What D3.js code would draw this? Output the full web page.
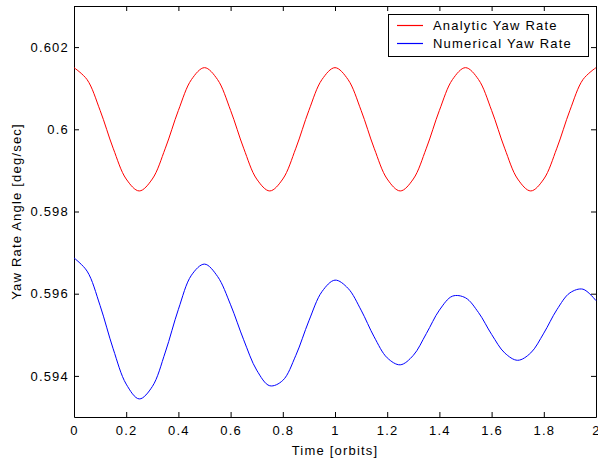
<!DOCTYPE html>
<html>
<head>
<meta charset="utf-8">
<script src="https://cdn.jsdelivr.net/npm/d3@7"></script>
<style>
body { margin: 0; background: #fff; }
text { font-family: "Liberation Sans", Arial, sans-serif; }
</style>
</head>
<body>
<div id="chart"></div>
<script>
var w = 598,
	h = 464;

// time in orbits, sampled every 0.05
var times = d3.range(0, 41).map(function(i) { return i * 0.05; });

var analytic = [
	0.6015, 0.60121, 0.60046, 0.59954, 0.59879, 0.5985, 0.59879, 0.59954, 0.60046, 0.60121,
	0.6015, 0.60121, 0.60046, 0.59954, 0.59879, 0.5985, 0.59879, 0.59954, 0.60046, 0.60121,
	0.6015, 0.60121, 0.60046, 0.59954, 0.59879, 0.5985, 0.59879, 0.59954, 0.60046, 0.60121,
	0.6015, 0.60121, 0.60046, 0.59954, 0.59879, 0.5985, 0.59879, 0.59954, 0.60046, 0.60121,
	0.6015
];

var numerical = [
	0.59687, 0.59655, 0.59571, 0.59466, 0.59380, 0.59344, 0.59374, 0.59458, 0.59562, 0.59645,
	0.59672, 0.59642, 0.59573, 0.59488, 0.59414, 0.59376, 0.59389, 0.59450, 0.59534, 0.59605,
	0.59633, 0.59613, 0.59560, 0.59495, 0.59444, 0.59427, 0.59450, 0.59503, 0.59560, 0.59594,
	0.59590, 0.59554, 0.59501, 0.59456, 0.59438, 0.59456, 0.59504, 0.59561, 0.59602, 0.59611,
	0.59583
];

var xTicks = [0, 0.2, 0.4, 0.6, 0.8, 1, 1.2, 1.4, 1.6, 1.8, 2];
var yTicks = [0.594, 0.596, 0.598, 0.6, 0.602];
var seriesNames = ["Analytic Yaw Rate", "Numerical Yaw Rate"];
var seriesColors = ["#ff0000", "#0000ff"];

var pl = 74, pr = 596, pt = 6, pb = 417;

var svg = d3.select("#chart").append("svg").attr("width", w).attr("height", h);

var x = d3.scaleLinear().domain([0, 2]).range([pl, pr]);
var y = d3.scaleLinear().domain([0.593, 0.603]).range([pb, pt]);

var fmt = function(d) { return String(+d.toFixed(3)); };

function styleAxis(g) {
	g.selectAll("path").attr("stroke", "#000").attr("stroke-width", 1);
	g.selectAll("line").attr("stroke", "#000");
	g.selectAll("text").attr("fill", "#000").style("font-size", "13px").style("letter-spacing", "1.2px");
}

svg.append("g").attr("transform", "translate(0," + pb + ")")
	.call(d3.axisBottom(x).tickValues(xTicks).tickFormat(fmt).tickSizeInner(-5).tickSizeOuter(0).tickPadding(9))
	.call(styleAxis);
svg.append("g").attr("transform", "translate(0," + pt + ")")
	.call(d3.axisTop(x).tickValues(xTicks).tickFormat("").tickSizeInner(-5).tickSizeOuter(0))
	.call(styleAxis);
svg.append("g").attr("transform", "translate(" + pl + ",0)")
	.call(d3.axisLeft(y).tickValues(yTicks).tickFormat(fmt).tickSizeInner(-5).tickSizeOuter(0).tickPadding(5))
	.call(styleAxis);
svg.append("g").attr("transform", "translate(" + pr + ",0)")
	.call(d3.axisRight(y).tickValues(yTicks).tickFormat("").tickSizeInner(-5).tickSizeOuter(0))
	.call(styleAxis);

var line = d3.line()
	.x(function(d, i) { return x(times[i]); })
	.y(function(d) { return y(d); })
	.curve(d3.curveCatmullRom.alpha(0.5));

[analytic, numerical].forEach(function(s, k) {
	svg.append("path").datum(s)
		.attr("d", line)
		.attr("fill", "none")
		.attr("stroke", seriesColors[k])
		.attr("stroke-width", 1);
});

// axis labels
svg.append("text").attr("x", (pl + pr) / 2).attr("y", 455)
	.attr("text-anchor", "middle").style("font-size", "13px").style("letter-spacing", "1.2px")
	.text("Time [orbits]");
svg.append("text").attr("transform", "translate(21," + ((pt + pb) / 2) + ") rotate(-90)")
	.attr("text-anchor", "middle").style("font-size", "13px").style("letter-spacing", "1.2px")
	.text("Yaw Rate Angle [deg/sec]");

// legend
var lg = svg.append("g").attr("transform", "translate(388,14)");
lg.append("rect").attr("x", 0.5).attr("y", 0.5).attr("width", 200).attr("height", 42)
	.attr("fill", "#fff").attr("stroke", "#000").attr("stroke-width", 1);
seriesNames.forEach(function(name, k) {
	var yy = 11.5 + k * 18;
	lg.append("path").attr("d", "M9," + yy + "H35")
		.attr("fill", "none")
		.style("stroke", seriesColors[k]).style("stroke-width", "1.2px");
	lg.append("text").attr("x", 45).attr("y", yy + 4.5)
		.style("font-size", "13px").style("letter-spacing", "1.2px")
		.text(name);
});
</script>
</body>
</html>
